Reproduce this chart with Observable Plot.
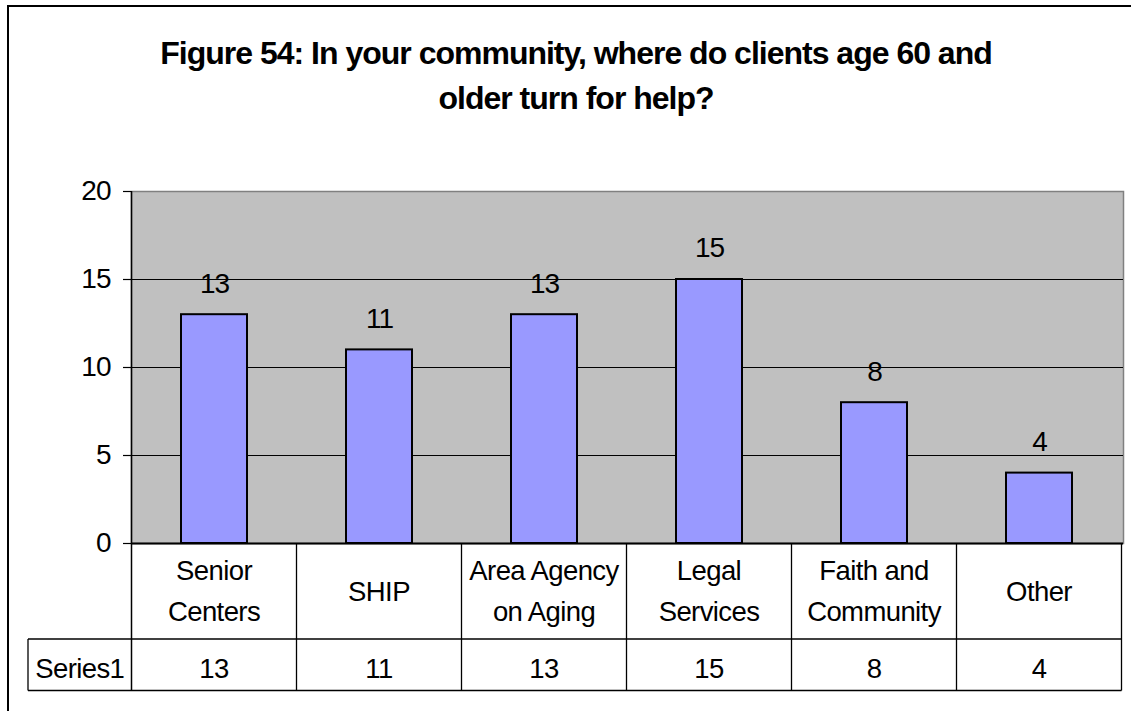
<!DOCTYPE html>
<html>
<head>
<meta charset="utf-8">
<script src="https://cdn.jsdelivr.net/npm/d3@7"></script>
<script src="https://cdn.jsdelivr.net/npm/@observablehq/plot@0.6"></script>
<style>
  html, body { margin: 0; padding: 0; background: #fff; overflow: hidden; }
  #wrap { position: relative; width: 1131px; height: 711px; overflow: hidden; font-family: "Liberation Sans", Arial, sans-serif; }
  #border { position: absolute; left: 7px; top: 5px; width: 1300px; height: 900px; border: 2px solid #000; box-sizing: border-box; }
  #chart { position: absolute; left: 0; top: 0; }
  #title { position: absolute; left: 0; top: 31px; width: 1152px; text-align: center; font-weight: bold; font-size: 32px; letter-spacing: -1px; line-height: 45px; color: #000; }
</style>
</head>
<body>
<div id="wrap">
  <div id="border"></div>
  <div id="chart"></div>
  <div id="title"></div>
</div>
<script>
const titleLines = ["Figure 54: In your community, where do clients age 60 and", "older turn for help?"];
const categories = ["Senior Centers", "SHIP", "Area Agency on Aging", "Legal Services", "Faith and Community", "Other"];
const categoryLines = [["Senior", "Centers"], ["SHIP"], ["Area Agency", "on Aging"], ["Legal", "Services"], ["Faith and", "Community"], ["Other"]];
const values = [13, 11, 13, 15, 8, 4];
const yTicks = [0, 5, 10, 15, 20];
const seriesName = "Series1";

document.getElementById("title").innerHTML = titleLines.map(s => `<div>${s}</div>`).join("");

const data = categories.map((c, i) => ({category: c, value: values[i]}));
const font = "Liberation Sans, Arial, sans-serif";

const plot = Plot.plot({
  width: 1131,
  height: 711,
  marginTop: 191,
  marginBottom: 168,
  marginLeft: 131,
  marginRight: 8,
  style: {fontFamily: font, background: "transparent", color: "#000"},
  x: {domain: categories, paddingInner: 0.6, paddingOuter: 0.3, axis: null},
  y: {domain: [0, 20], ticks: yTicks, axis: null},
  marks: [
    Plot.frame({fill: "#c0c0c0", stroke: "#808080", strokeWidth: 1.5}),
    Plot.gridY(yTicks.filter(d => d > 0 && d < 20), {stroke: "#000", strokeOpacity: 1, strokeWidth: 1.2}),
    Plot.axisY(yTicks, {tickSize: 8, tickPadding: 13, fontSize: 28, stroke: "#000", strokeWidth: 1.2, label: null, fill: "#000"}),
    Plot.barY(data, {x: "category", y: "value", fill: "#9999ff", stroke: "#000", strokeWidth: 2}),
    Plot.text(data, {x: "category", y: "value", text: d => String(d.value), dy: -31, lineAnchor: "middle", fontSize: 28, fill: "#000"}),
    Plot.ruleY([0], {stroke: "#000", strokeWidth: 2})
  ]
});
document.getElementById("chart").appendChild(plot);
d3.select(plot).selectAll("text").attr("letter-spacing", "-1px");

// Data table under the plot, positioned with the plot's own scales
const xs = plot.scale("x");
const ys = plot.scale("y");
const svg = d3.select(plot);
const g = svg.append("g").attr("font-family", font).attr("fill", "#000").attr("letter-spacing", "-0.6px");
const step = xs.step, bw = xs.bandwidth;
const top0 = ys.apply(0);
const rowDiv = 639, bottom = 690.5, leftCell = 28;
const x0 = xs.apply(categories[0]) - (step - bw) / 2;
const x1 = xs.apply(categories[categories.length - 1]) + bw + (step - bw) / 2;
const line = (xa, ya, xb, yb, w = 1.3) => g.append("line").attr("x1", xa).attr("y1", ya).attr("x2", xb).attr("y2", yb).attr("stroke", "#000").attr("stroke-width", w);

// left axis line (continues through the table)
line(x0, ys.apply(20), x0, bottom, 1.5);
line(leftCell, rowDiv, x1, rowDiv);
line(leftCell, bottom, x1, bottom);
line(leftCell, rowDiv, leftCell, bottom);
categories.forEach((c, i) => {
  const right = xs.apply(c) + bw + (step - bw) / 2;
  line(right, top0, right, bottom);
  const cx = xs.apply(c) + bw / 2;
  const lines = categoryLines[i];
  const lh = 41;
  const mid = (top0 + rowDiv) / 2;
  lines.forEach((t, k) => {
    g.append("text").attr("x", cx).attr("y", mid + (k - (lines.length - 1) / 2) * lh).attr("text-anchor", "middle").attr("dy", "0.36em").attr("font-size", 27.5).text(t);
  });
  g.append("text").attr("x", cx).attr("y", 678).attr("text-anchor", "middle").attr("font-size", 27.5).text(String(values[i]));
});
g.append("text").attr("x", (leftCell + x0) / 2).attr("y", 678).attr("text-anchor", "middle").attr("font-size", 27.5).text(seriesName);
</script>
</body>
</html>
